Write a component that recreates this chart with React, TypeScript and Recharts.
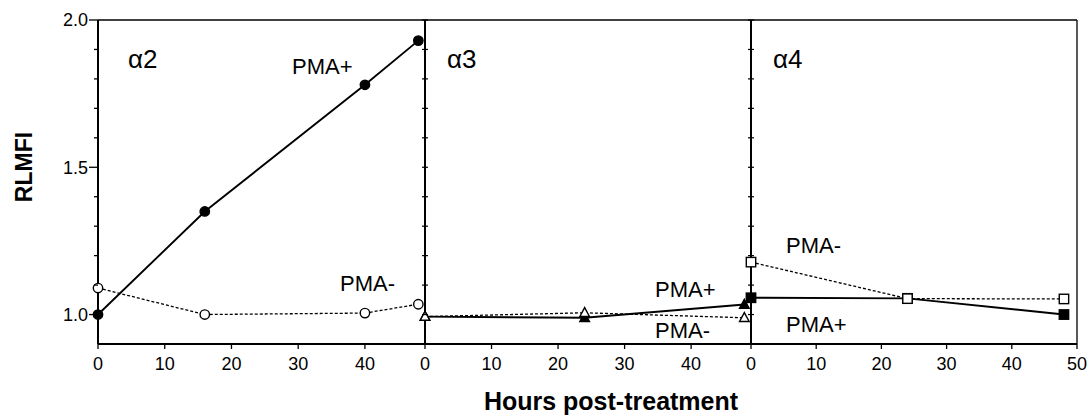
import React from 'react';
import { LineChart, Line, XAxis, YAxis, ReferenceLine } from 'recharts';

// ---- data ----
const A2_HOURS = [0, 16, 40, 48];
const A2_PMA_PLUS = [1.0, 1.35, 1.78, 1.93];
const A2_PMA_MINUS = [1.09, 1.0, 1.005, 1.035];

const A3_HOURS = [0, 24, 48];
const A3_PMA_PLUS = [0.993, 0.989, 1.034];
const A3_PMA_MINUS = [0.993, 1.006, 0.989];

const A4_HOURS = [0, 24, 48];
const A4_PMA_PLUS = [1.057, 1.055, 1.0];
const A4_PMA_MINUS = [1.178, 1.054, 1.053];

const Y_TICKS = [1.0, 1.1, 1.2, 1.3, 1.4, 1.5, 1.6, 1.7, 1.8, 1.9, 2.0];
const Y_LABELED = [1.0, 1.5, 2.0];
const X_TICKS_SHORT = [0, 10, 20, 30, 40];
const X_TICKS_LAST = [0, 10, 20, 30, 40, 50];

const FONT = '"Liberation Sans", Arial, Helvetica, sans-serif';

const build = (hours: number[], plus: number[], minus: number[]) =>
  hours.map((h, i) => ({ h, plus: plus[i], minus: minus[i] }));

const dataA2 = build(A2_HOURS, A2_PMA_PLUS, A2_PMA_MINUS);
const dataA3 = build(A3_HOURS, A3_PMA_PLUS, A3_PMA_MINUS);
const dataA4 = build(A4_HOURS, A4_PMA_PLUS, A4_PMA_MINUS);

// ---- markers ----
const makeDot = (shape: 'circle' | 'triangle' | 'square', filled: boolean) => (props: any) => {
  const { cx, cy, index } = props;
  const fill = filled ? '#000' : '#fff';
  if (cx == null || cy == null) return <g key={index} />;
  if (shape === 'circle')
    return <circle key={index} cx={cx} cy={cy} r={4.7} fill={fill} stroke="#000" strokeWidth={1.4} />;
  if (shape === 'square')
    return <rect key={index} x={cx - 4.7} y={cy - 4.7} width={9.4} height={9.4} fill={fill} stroke="#000" strokeWidth={1.4} />;
  return (
    <path
      key={index}
      d={`M${cx},${cy - 5.2} L${cx + 4.8},${cy + 3.7} L${cx - 4.8},${cy + 3.7} Z`}
      fill={fill}
      stroke="#000"
      strokeWidth={1.4}
    />
  );
};

// ---- ticks ----
const LeftTick = (props: any) => {
  const { x, y, payload } = props;
  const v = Number(payload.value);
  const major = Y_LABELED.some((m) => Math.abs(m - v) < 1e-6);
  const axisX = x + 10;
  const len = major ? 9 : 4;
  return (
    <g>
      <line x1={axisX - len} y1={y} x2={axisX} y2={y} stroke="#000" strokeWidth={1.3} />
      {major && (
        <text x={x} y={y} dy="0.355em" textAnchor="end" fontSize={18} fontFamily={FONT} fill="#000">
          {v.toFixed(1)}
        </text>
      )}
    </g>
  );
};

const DividerTick = (props: any) => {
  const { x, y } = props;
  return <line x1={x - 3} y1={y} x2={x + 3} y2={y} stroke="#000" strokeWidth={1.2} />;
};

type PanelProps = {
  left: number;
  width: number;
  margin: { top: number; right: number; left: number; bottom: number };
  yWidth: number;
  data: any[];
  xMax: number;
  xTicks: number[];
  first: boolean;
  last: boolean;
  shape: 'circle' | 'triangle' | 'square';
};

const Panel = ({ left, width, margin, yWidth, data, xMax, xTicks, first, last, shape }: PanelProps) => (
  <div style={{ position: 'absolute', left, top: 0 }}>
    <LineChart width={width} height={418} data={data} margin={margin}>
      <XAxis
        dataKey="h"
        type="number"
        domain={[0, xMax]}
        ticks={xTicks}
        interval={0}
        allowDecimals={false}
        tickSize={5}
        tickMargin={8}
        height={30}
        axisLine={{ stroke: '#000', strokeWidth: 2 }}
        tickLine={{ stroke: '#000', strokeWidth: 1.3 }}
        tick={{ fontSize: 18, fontFamily: FONT, fill: '#000' }}
      />
      <YAxis
        type="number"
        domain={[0.9, 2.0]}
        ticks={Y_TICKS}
        interval={0}
        width={yWidth}
        tickSize={first ? 8 : 0}
        tickMargin={first ? 2 : 0}
        tickLine={false}
        axisLine={{ stroke: '#000', strokeWidth: 2 }}
        tick={first ? <LeftTick /> : <DividerTick />}
      />
      <ReferenceLine y={2.0} stroke="#000" strokeWidth={1.6} />
      {last && <ReferenceLine x={xMax} stroke="#000" strokeWidth={1.3} />}
      <Line
        dataKey="plus"
        stroke="#000"
        strokeWidth={1.9}
        dot={makeDot(shape, true)}
        activeDot={false}
        isAnimationActive={false}
      />
      <Line
        dataKey="minus"
        stroke="#000"
        strokeWidth={1.3}
        strokeDasharray="3 2"
        dot={makeDot(shape, false)}
        activeDot={false}
        isAnimationActive={false}
      />
    </LineChart>
  </div>
);

const txt = (x: number, y: number, s: string, size = 22, weight: any = 'normal') => (
  <text x={x} y={y} fontSize={size} fontFamily={FONT} fontWeight={weight} fill="#000">
    {s}
  </text>
);

export default function App() {
  return (
    <div style={{ position: 'absolute', left: 0, top: 0, width: 1091, height: 418, background: '#fff' }}>
      <Panel
        left={0}
        width={430}
        margin={{ top: 20, right: 5, left: 38, bottom: 44 }}
        yWidth={60}
        data={dataA2}
        xMax={49}
        xTicks={X_TICKS_SHORT}
        first={true}
        last={false}
        shape="circle"
      />
      <Panel
        left={415}
        width={336}
        margin={{ top: 20, right: 0, left: 0, bottom: 44 }}
        yWidth={10}
        data={dataA3}
        xMax={49}
        xTicks={X_TICKS_SHORT}
        first={false}
        last={false}
        shape="triangle"
      />
      <Panel
        left={741}
        width={350}
        margin={{ top: 20, right: 14, left: 0, bottom: 44 }}
        yWidth={10}
        data={dataA4}
        xMax={50}
        xTicks={X_TICKS_LAST}
        first={false}
        last={true}
        shape="square"
      />
      <svg
        width={1091}
        height={418}
        style={{ position: 'absolute', left: 0, top: 0, pointerEvents: 'none' }}
      >
        {txt(128, 68, 'α2', 26)}
        {txt(447, 68, 'α3', 26)}
        {txt(773, 68, 'α4', 26)}
        {txt(292, 74, 'PMA+')}
        {txt(340, 291, 'PMA-')}
        {txt(655, 297, 'PMA+')}
        {txt(655, 338, 'PMA-')}
        {txt(786, 253, 'PMA-')}
        {txt(786, 332, 'PMA+')}
        <text
          x={32}
          y={167}
          transform="rotate(-90, 32, 167)"
          textAnchor="middle"
          fontSize={23}
          fontWeight="bold"
          fontFamily={FONT}
          fill="#000"
        >
          RLMFI
        </text>
        <text x={611} y={410} textAnchor="middle" fontSize={25} fontWeight="bold" fontFamily={FONT} fill="#000">
          Hours post-treatment
        </text>
      </svg>
    </div>
  );
}
